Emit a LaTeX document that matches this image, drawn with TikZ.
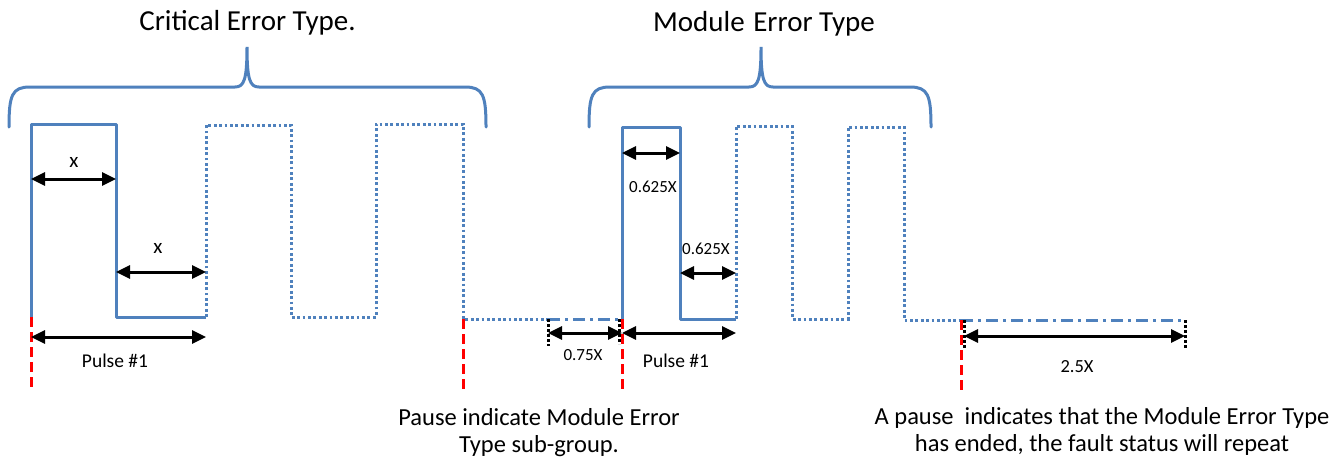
\documentclass[tikz,border=0pt]{standalone}
\usepackage{fontspec}
\setmainfont{Carlito}
\usetikzlibrary{arrows.meta}
\definecolor{wave}{RGB}{79,129,189}
\tikzset{
 wavesolid/.style={draw=wave, line width=3pt, line join=round},
 wavedot/.style={draw=wave, line width=3pt, dash pattern=on 2.8pt off 2.6pt},
 wavedashdot/.style={draw=wave, line width=3pt, dash pattern=on 12pt off 5pt on 3pt off 5pt},
 bracestyle/.style={draw=wave, line width=3pt, line cap=round},
 marker/.style={draw=red, line width=3pt, dash pattern=on 10pt off 5pt},
 tickmark/.style={draw=black, line width=3pt, dash pattern=on 2.5pt off 2.5pt},
 dim/.style={draw=black, line width=3pt, {Triangle[length=14pt,width=13pt]}-{Triangle[length=14pt,width=13pt]}},
 title/.style={font=\fontsize{29}{34}\selectfont, anchor=base, inner sep=0pt},
 lbl/.style={font=\fontsize{17}{20}\selectfont, anchor=base, inner sep=0pt},
 xlbl/.style={font=\fontsize{21}{24}\selectfont, anchor=base, inner sep=0pt},
 plbl/.style={font=\fontsize{19.5}{22}\selectfont, anchor=base, inner sep=0pt},
 note/.style={font=\fontsize{24.5}{27}\selectfont, anchor=base, inner sep=0pt, align=center},
}
\begin{document}
\begin{tikzpicture}[x=1pt,y=-1pt]
\useasboundingbox[fill=white] (0,0) rectangle (1343,458);

% titles
\node[title] (t1) at (247.5,30) {Critical Error Type.};
\node[title] (t2) at (764,31) {Module\hspace{2pt} Error Type};

% braces
\draw[bracestyle] (9,127) .. controls (9,95) and (12,87) .. (30,87) -- (235,87)
  .. controls (244,87) and (247,80) .. (247,47)
  .. controls (247,80) and (250,87) .. (259,87) -- (465,87)
  .. controls (483,87) and (486,95) .. (486,127);
\draw[bracestyle] (589,127) .. controls (589,95) and (592,87) .. (610,87) -- (749,87)
  .. controls (758,87) and (761,80) .. (761,47)
  .. controls (761,80) and (764,87) .. (773,87) -- (910,87)
  .. controls (928,87) and (931,95) .. (931,127);

% waveform: critical error type
\draw[wavesolid] (31,317) -- (31,124) -- (116,124) -- (116,317) -- (206,317);
\draw[wavedot] (206,317) -- (206,125) -- (291,125) -- (291,317) -- (376,317)
  -- (376,124) -- (463,124) -- (463,319) -- (548,319);
\draw[wavedashdot] (548,319) -- (622,319);
% waveform: module error type
\draw[wavesolid] (622,319) -- (622,127) -- (680,127) -- (680,319) -- (736,319);
\draw[wavedot] (736,319) -- (736,126) -- (792,126) -- (792,319) -- (848,319)
  -- (848,127) -- (904,127) -- (904,320) -- (961,320);
\draw[wavedashdot] (961,320) -- (1185,320);

% red markers
\draw[marker] (31,317) -- (31,390);
\draw[marker] (463,319) -- (463,390);
\draw[marker] (622,319) -- (622,392);
\draw[marker] (961,320) -- (961,390);

% black dotted ticks
\draw[tickmark] (548,319) -- (548,346);
\draw[tickmark] (619,319) -- (619,344);
\draw[tickmark] (964,320) -- (964,348);
\draw[tickmark] (1185,320) -- (1185,348);

% dimension coordinates
\coordinate (a1) at (31,179);  \coordinate (a2) at (116,179);
\coordinate (b1) at (116,272); \coordinate (b2) at (206,272);
\coordinate (p1) at (31,337);  \coordinate (p2) at (206,337);
\coordinate (c1) at (548,333); \coordinate (c2) at (622,333);
\coordinate (q1) at (622,333); \coordinate (q2) at (736,333);
\coordinate (d1) at (622,153); \coordinate (d2) at (680,153);
\coordinate (e1) at (680,273); \coordinate (e2) at (736,273);
\coordinate (f1) at (964,336); \coordinate (f2) at (1185,336);

\draw[dim] (a1) -- (a2);
\draw[dim] (b1) -- (b2);
\draw[dim] (p1) -- (p2);
\draw[dim] (c1) -- (c2);
\draw[dim] (q1) -- (q2);
\draw[dim] (d1) -- (d2);
\draw[dim] (e1) -- (e2);
\draw[dim] (f1) -- (f2);

% labels
\node[xlbl] (lx1) at (74,167) {x};
\node[xlbl] (lx2) at (158,253) {x};
\node[plbl] (lp1) at (115,367) {Pulse \#1};
\node[plbl] (lp2) at (676,367) {Pulse \#1};
\node[lbl] (l075) at (583,360) {0.75X};
\node[lbl] (l0625a) at (653,192) {0.625X};
\node[lbl] (l0625b) at (706,254) {0.625X};
\node[lbl, font=\fontsize{18.5}{21}\selectfont] (l25) at (1077,372) {2.5X};

% notes (base anchor = baseline of the last line)
\node[note] (n1) at (539,452) {Pause indicate Module Error\\Type sub-group.};
\node[note] (n2) at (1102,451) {A pause~ indicates that the Module Error Type\\has ended, the fault status will repeat};
\end{tikzpicture}
\end{document}
